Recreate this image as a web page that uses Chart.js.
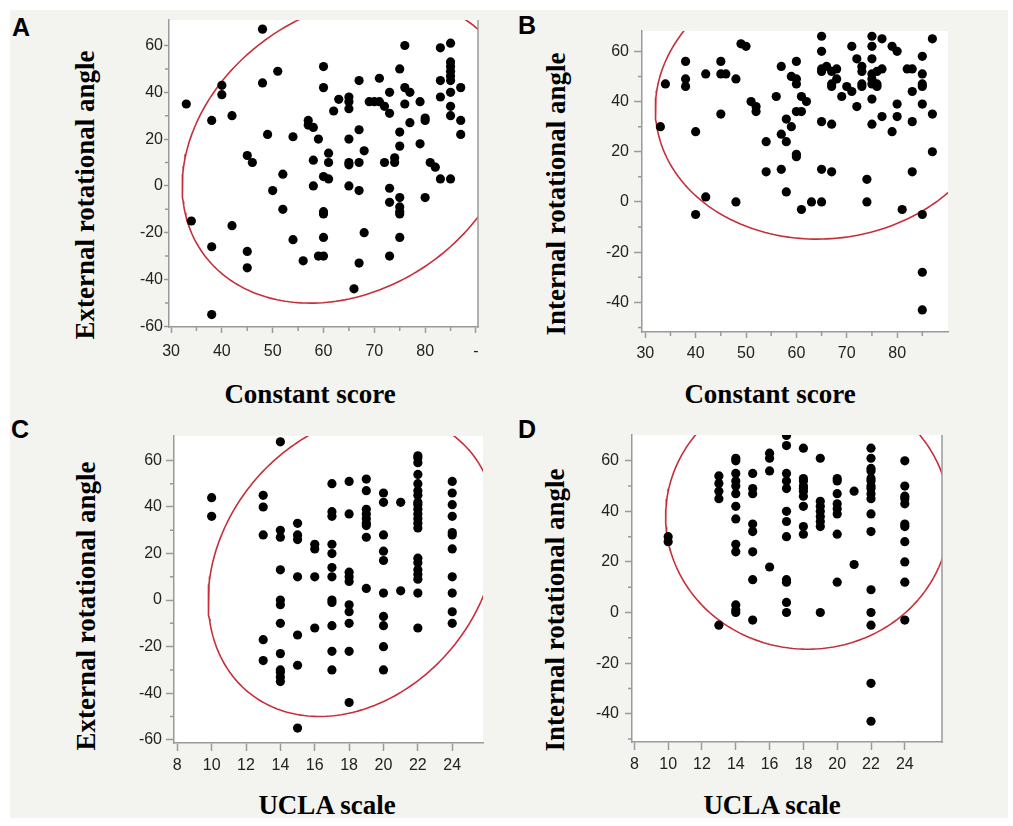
<!DOCTYPE html>
<html>
<head>
<meta charset="utf-8">
<script src="https://cdn.jsdelivr.net/npm/chart.js@4.4.1/dist/chart.umd.min.js"></script>
<style>
  html, body { margin: 0; padding: 0; background: #fff; }
  body { width: 1013px; height: 826px; position: relative; overflow: hidden; }
  #bg { position: absolute; left: 10px; top: 10px; width: 998px; height: 808px; background: #f3f3ef; }
  .box { position: absolute; }
  .letter { position: absolute; font: bold 25px/25px "Liberation Sans", Arial, sans-serif; color: #000; }
  .xt { position: absolute; width: 300px; text-align: center; white-space: nowrap;
        font: bold 27px/27px "Liberation Serif", "Times New Roman", serif; color: #000; }
  .yt { position: absolute; white-space: nowrap; transform: translate(-50%, -50%) rotate(-90deg);
        font: bold 27px/27px "Liberation Serif", "Times New Roman", serif; color: #000; }
</style>
</head>
<body>
<div id="bg"></div>

<div class="letter" style="left:12px;top:15px">A</div>
<div class="letter" style="left:518px;top:13px">B</div>
<div class="letter" style="left:11px;top:417px">C</div>
<div class="letter" style="left:518px;top:417px">D</div>

<div class="yt" style="left:85px;top:195px">External rotational angle</div>
<div class="yt" style="left:556px;top:194px">Internal rotational angle</div>
<div class="yt" style="left:86px;top:606px">External rotational angle</div>
<div class="yt" style="left:555px;top:610px">Internal rotational angle</div>

<div class="xt" style="left:160px;top:381px">Constant score</div>
<div class="xt" style="left:620px;top:381px">Constant score</div>
<div class="xt" style="left:177px;top:792px">UCLA scale</div>
<div class="xt" style="left:622px;top:792px">UCLA scale</div>

<div class="box" style="left:99px;top:0px;width:394px;height:367px"><canvas id="chartA"></canvas></div>
<div class="box" style="left:572px;top:11px;width:391px;height:361px"><canvas id="chartB"></canvas></div>
<div class="box" style="left:104px;top:416px;width:394px;height:367px"><canvas id="chartC"></canvas></div>
<div class="box" style="left:562px;top:415px;width:395px;height:367px"><canvas id="chartD"></canvas></div>

<script>
// ---- A: Constant score vs external rotation ----
const xA = [33,48,34,38,38,38,40,40,42,42,45,46,45,45,48,49,51,50,52,52,54,54,56,57,57,58,59,58,58,
  60,60,60,61,61,61,60,60,60,59,60,62,63,65,65,65,65,65,65,65,67,67,67,67,67,66,68,68,69,70,71,71,
  72,72,73,73,73,73,73,74,74,75,75,75,75,75,75,75,75,76,76,76,77,77,79,79,80,80,80,81,82,83,83,83,83,
  85,85,85,85,85,85,85,85,85,85,87,87,87];
const yA = [35,67,-15,28,-26,-55,43,39,30,-17,13,10,-28,-35,44,22,49,-2,5,-10,21,-23,-32,28,26,25,20,11,0,
  51,42,4,3,14,10,-11,-12,-22,-30,-30,32,37,38,36,33,20,10,9,0,45,24,10,-2,-33,-44,15,-20,36,36,36,46,
  34,10,40,31,-1,-7,-30,12,10,50,23,17,-5,-9,-11,-12,-22,60,42,35,40,27,36,18,29,28,-5,10,8,59,45,38,3,
  61,53,51,49,47,45,40,34,30,3,42,28,22];

// ---- B: Constant score vs internal rotation ----
const xB = [33,34,38,38,38,40,40,42,42,45,45,46,45,48,48,49,50,51,52,52,54,54,56,57,57,57,58,58,58,59,59,
  60,60,60,60,60,60,61,61,61,62,63,65,65,65,65,65,65,65,66,67,67,67,67,67,68,68,69,70,71,71,72,72,
  73,73,73,73,74,74,75,75,75,75,75,75,75,75,76,76,76,77,77,77,79,80,79,80,80,81,82,83,83,83,83,
  85,85,85,85,85,85,85,85,87,87,87];
const yB = [30,47,56,49,46,28,-5,51,2,56,51,51,35,49,0,63,62,40,38,36,24,12,42,54,27,13,33,24,4,50,30,
  56,49,47,36,19,18,42,36,-3,40,0,66,60,53,52,32,13,0,54,52,47,46,31,12,53,49,42,46,62,44,57,38,
  54,52,47,46,9,0,66,62,57,51,49,47,41,31,52,47,46,65,53,34,62,60,28,39,34,-3,53,53,44,32,12,
  58,51,47,46,39,-5,-28,-43,65,35,20];

// ---- C: UCLA scale vs external rotation ----
const xC = [10,10, 13,13,13,13,13, 14,14,14,14,14,14,14,14,14,14,14,14, 15,15,15,15,15,15,15,
  16,16,16,16, 17,17,17,17,17,17,17,17,17,17,17,17, 18,18,18,18,18,18,18,18,18,18,
  19,19,19,19,19,19,19,19,19, 20,20,20,20,20,20,20,20,20,20, 21,21,
  22,22,22,22,22,22,22,22,22,22,22,22,22,22,22,22,22,22,22,22,22, 24,24,24,24,24,24,24,24,24,24,24];
const yC = [44,36, 45,40,28,-17,-26, 68,30,27,13,0,-2,-10,-23,-30,-31,-33,-35, 33,28,26,10,-15,-28,-55,
  24,22,10,-12, 50,38,36,24,20,14,10,0,-1,-11,-22,-30, 51,37,12,10,8,-2,-5,-10,-22,-44,
  52,47,39,37,35,33,32,27,5, 46,42,28,21,17,3,-7,-11,-20,-30, 42,4,
  62,61,59,54,50,47,45,42,41,39,37,35,33,31,18,16,13,11,9,3,-12, 51,46,41,36,29,28,22,10,3,-5,-10];

// ---- D: UCLA scale vs internal rotation ----
const xD = [10,10, 13,13,13,13,13, 14,14,14,14,14,14,14,14,14,14,14,14,14, 15,15,15,15,15,15,15,15,
  16,16,16,16, 17,17,17,17,17,17,17,17,17,17,17,17, 18,18,18,18,18,18,18,18,18,18,
  19,19,19,19,19,19,19,19, 20,20,20,20,20,20,20,20, 21,21,
  22,22,22,22,22,22,22,22,22,22,22,22,22,22,22,22,22, 24,24,24,24,24,24,24,24,24,24,24];
const yD = [30,28, 54,51,48,45,-5, 61,60,55,52,50,47,42,37,27,24,3,1,0, 55,49,47,35,32,24,13,-3,
  63,61,56,18, 70,66,55,52,49,40,36,30,13,12,4,0, 65,53,52,50,49,48,46,42,34,31,
  61,44,42,40,38,36,34,0, 53,52,47,43,41,39,31,12, 48,19,
  65,61,57,56,53,52,50,49,47,45,39,32,9,0,-5,-28,-43, 60,50,46,45,43,35,34,28,20,12,-3];

// density ellipses: centre, half-spreads, correlation
const ellipseCenterA = [65, 15.1], ellipseSpreadA = [32.8, 65.2], ellipseCorrA = 0.232;
const ellipseCenterB = [66, 40.3], ellipseSpreadB = [34, 55.1], ellipseCorrB = 0.056;
const ellipseCenterC = [18.2, 15], ellipseSpreadC = [8.4, 65], ellipseCorrC = 0.23;
const ellipseCenterD = [18.25, 38], ellipseSpreadD = [8.4, 52.5], ellipseCorrD = 0;

// tick values and labels
const constantTicks = [30, 40, 50, 60, 70, 80, 90];
const constantLabelsA = ['30', '40', '50', '60', '70', '80', '-'];
const constantTicksB = [30, 40, 50, 60, 70, 80];
const constantMinor = [35, 45, 55, 65, 75, 85];
const uclaTicks = [8, 10, 12, 14, 16, 18, 20, 22, 24];
const extAngleTicks = [-60, -40, -20, 0, 20, 40, 60];
const intAngleTicks = [-40, -20, 0, 20, 40, 60];
const angleMinor = [-50, -30, -10, 10, 30, 50];

function ellipsePoints(center, spread, corr) {
    const phi = Math.acos(corr);
    const pts = [];
    for (let i = 0; i <= 240; i++) {
        const t = i / 240 * 2 * Math.PI;
        pts.push({ x: center[0] + spread[0] * Math.cos(t), y: center[1] + spread[1] * Math.cos(t - phi) });
    }
    return pts;
}

const AXIS_GREY = '#9a9a9a';
const tickFont = { family: '"Liberation Sans", Arial, sans-serif', size: 16 };

// white plot area, right frame line, short minor ticks
const panelPlugin = {
    id: 'panel',
    beforeDraw(chart, args, opts) {
        const a = chart.chartArea, ctx = chart.ctx;
        ctx.save();
        ctx.fillStyle = '#fff';
        ctx.fillRect(a.left, a.top, a.right - a.left, a.bottom - a.top);
        ctx.restore();
    },
    afterDraw(chart, args, opts) {
        const a = chart.chartArea, ctx = chart.ctx;
        ctx.save();
        ctx.strokeStyle = AXIS_GREY;
        ctx.lineWidth = 1.5;
        ctx.beginPath();
        if (opts.rightFrame) {
            ctx.moveTo(a.right, a.top);
            ctx.lineTo(a.right, a.bottom + 0.75);
        }
        (opts.xMinor || []).forEach(v => {
            const px = chart.scales.x.getPixelForValue(v);
            ctx.moveTo(px, a.bottom);
            ctx.lineTo(px, a.bottom + 4);
        });
        (opts.yMinor || []).forEach(v => {
            const py = chart.scales.y.getPixelForValue(v);
            ctx.moveTo(a.left, py);
            ctx.lineTo(a.left - 4, py);
        });
        ctx.stroke();
        ctx.restore();
    }
};

function drawPanel(id, p) {
    const points = p.xs.map((x, i) => ({ x: x, y: p.ys[i] }));
    new Chart(document.getElementById(id), {
        type: 'scatter',
        data: {
            datasets: [
                {
                    data: points,
                    pointRadius: 4.6,
                    pointBackgroundColor: '#000',
                    pointBorderWidth: 0,
                    order: 0
                },
                {
                    type: 'line',
                    data: ellipsePoints(p.center, p.spread, p.corr),
                    borderColor: '#c62f3a',
                    borderWidth: 1.6,
                    pointRadius: 0,
                    fill: false,
                    tension: 0,
                    order: 1
                }
            ]
        },
        options: {
            animation: false,
            responsive: true,
            maintainAspectRatio: false,
            layout: { padding: { left: 0, top: 20, right: 15, bottom: 0 } },
            plugins: {
                legend: { display: false },
                tooltip: { enabled: false },
                panel: { rightFrame: p.rightFrame, xMinor: p.xMinor, yMinor: p.yMinor }
            },
            scales: {
                x: {
                    type: 'linear',
                    min: p.xRange[0],
                    max: p.xRange[1],
                    afterBuildTicks: s => { s.ticks = p.xTicks.map(v => ({ value: v })); },
                    afterFit: s => { s.height = 40; s.paddingLeft = 0; s.paddingRight = 0; },
                    ticks: {
                        autoSkip: false, maxRotation: 0, color: '#222', font: tickFont, padding: p.xPad,
                        callback: v => p.xLabels[p.xTicks.indexOf(v)]
                    },
                    grid: { drawOnChartArea: false, tickLength: p.xTick, tickColor: AXIS_GREY, tickWidth: 1.5 },
                    border: { color: AXIS_GREY, width: 1.5 }
                },
                y: {
                    type: 'linear',
                    min: p.yRange[0],
                    max: p.yRange[1],
                    afterBuildTicks: s => { s.ticks = p.yTicks.map(v => ({ value: v })); },
                    afterFit: s => { s.width = 70; s.paddingTop = 0; s.paddingBottom = 0; },
                    ticks: {
                        autoSkip: false, color: '#222', font: tickFont, padding: p.yPad,
                        callback: v => String(v)
                    },
                    grid: { drawOnChartArea: false, tickLength: p.yTick, tickColor: AXIS_GREY, tickWidth: 1.5 },
                    border: { color: AXIS_GREY, width: 1.5 }
                }
            }
        },
        plugins: [panelPlugin]
    });
}

drawPanel('chartA', {
    xs: xA, ys: yA, center: ellipseCenterA, spread: ellipseSpreadA, corr: ellipseCorrA,
    xRange: [29.6, 90.4], yRange: [-60.3, 70.9],
    xTicks: constantTicks, xLabels: constantLabelsA, xMinor: constantMinor,
    yTicks: extAngleTicks, yMinor: angleMinor,
    xTick: 6, xPad: 9, yTick: 5, yPad: 1, rightFrame: true
});
drawPanel('chartB', {
    xs: xB, ys: yB, center: ellipseCenterB, spread: ellipseSpreadB, corr: ellipseCorrB,
    xRange: [29.35, 90.1], yRange: [-51.8, 68.1],
    xTicks: constantTicksB, xLabels: constantTicksB.map(String), xMinor: constantMinor,
    yTicks: intAngleTicks, yMinor: angleMinor,
    xTick: 6, xPad: 6, yTick: 8, yPad: 5, rightFrame: false
});
drawPanel('chartC', {
    xs: xC, ys: yC, center: ellipseCenterC, spread: ellipseSpreadC, corr: ellipseCorrC,
    xRange: [7.81, 25.79], yRange: [-61.4, 70.5],
    xTicks: uclaTicks, xLabels: uclaTicks.map(String), xMinor: [],
    yTicks: extAngleTicks, yMinor: angleMinor,
    xTick: 8, xPad: 5, yTick: 8, yPad: 4, rightFrame: false
});
drawPanel('chartD', {
    xs: xD, ys: yD, center: ellipseCenterD, spread: ellipseSpreadD, corr: ellipseCorrD,
    xRange: [7.86, 26.2], yRange: [-51.2, 70.2],
    xTicks: uclaTicks, xLabels: uclaTicks.map(String), xMinor: [],
    yTicks: intAngleTicks, yMinor: angleMinor,
    xTick: 8, xPad: 5, yTick: 7, yPad: 6, rightFrame: true
});
</script>
</body>
</html>
